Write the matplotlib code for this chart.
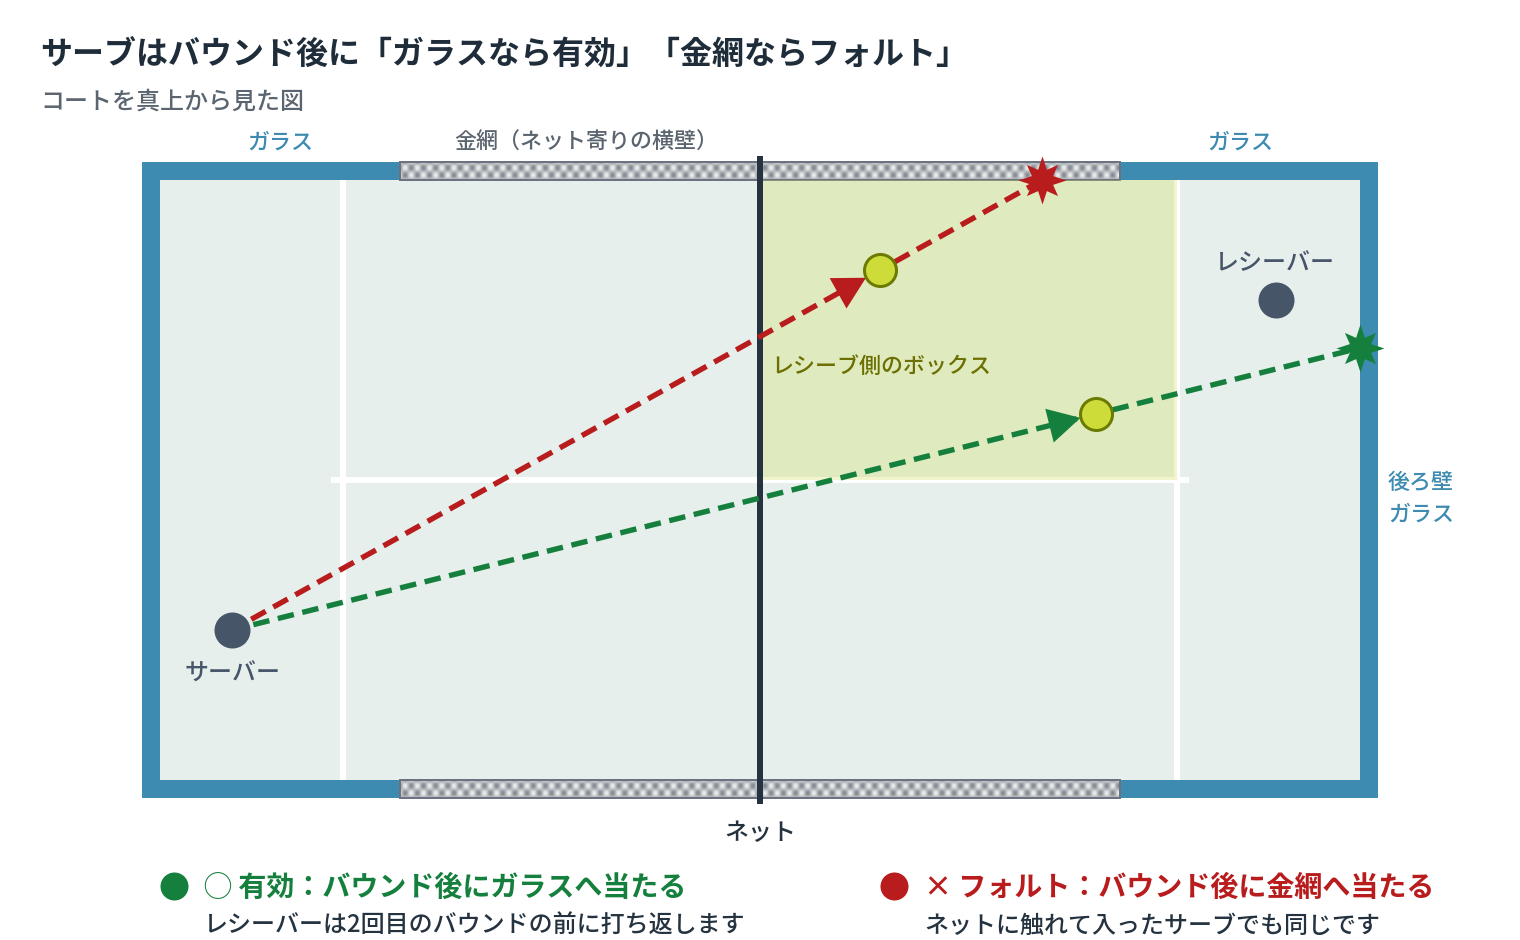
import numpy as np
import matplotlib
matplotlib.use('Agg')
import matplotlib.pyplot as plt
from matplotlib.colors import LinearSegmentedColormap
from matplotlib.patches import Rectangle

plt.rcParams['font.family'] = ['Noto Sans CJK JP', 'DejaVu Sans']

# court layout in picture pixels
court_x = [160, 1360]
court_y = [180, 780]
frame = 18
mesh_x = [400, 1120]
net_x = 760
service_x = [343, 1177]
service_y = 480
box_x = [760, 1177]
box_y = [180, 480]

# players and the two serves
server = (232, 630)
receiver = (1276, 300)
red_bounce = (880, 270)
red_hit = (1042, 180)
green_bounce = (1096, 414)
green_hit = (1360, 348)

GLASS = '#3d8bb0'
COURT = '#e6efec'
RED = '#b91c1c'
GREEN = '#15803d'
PLAYER = '#475569'
NET = '#253340'
MESH = LinearSegmentedColormap.from_list('mesh', ['#848a92', '#eceded'])

# impact star outline: tip, notch, diagonal tip, notch ...
star_radii = [24, 11.5, 22, 11.5] * 4
star_angles = np.deg2rad(np.arange(16) * 22.5)
STAR = list(zip(np.array(star_radii) * np.sin(star_angles), np.array(star_radii) * np.cos(star_angles)))


def px(w):
    # pixels to points at dpi 100
    return w * 0.72


def along(a, b, dist):
    # point dist pixels from a towards b
    a, b = np.array(a, float), np.array(b, float)
    return a + (b - a) / np.hypot(*(b - a)) * dist


fig = plt.figure(figsize=(15.2, 9.4), dpi=100)
ax = fig.add_axes([0, 0, 1, 1])

# glass frame and court
ax.add_patch(Rectangle((court_x[0] - frame, court_y[0] - frame),
                       court_x[1] - court_x[0] + 2 * frame,
                       court_y[1] - court_y[0] + 2 * frame, fc=GLASS, lw=0))
ax.add_patch(Rectangle((court_x[0], court_y[0]), court_x[1] - court_x[0],
                       court_y[1] - court_y[0], fc=COURT, lw=0))

# service lines
for x in service_x:
    ax.plot([x, x], court_y, color='white', lw=px(6), solid_capstyle='butt')
ax.plot([331, 1189], [service_y, service_y], color='white', lw=px(6), solid_capstyle='butt')

# receiver box sits over the lines
ax.add_patch(Rectangle((box_x[0], box_y[0]), box_x[1] - box_x[0], box_y[1] - box_y[0],
                       fc='#d4e157', alpha=0.3, lw=0, zorder=2.5))

# wire mesh on the side walls, a soft dot pattern
xx, yy = np.meshgrid(np.arange(mesh_x[1] - mesh_x[0]), np.arange(frame))
weave = 0.5 + 0.5 * np.cos(2 * np.pi * (xx - 4.7) / 12.2) * np.cos(2 * np.pi * (yy - 5.3) / 14.6)
for y in [court_y[0] - frame, court_y[1]]:
    ax.imshow(weave, cmap=MESH, extent=(mesh_x[0], mesh_x[1], y + frame, y),
              interpolation='bilinear', aspect='auto', zorder=1.5)
    ax.add_patch(Rectangle((mesh_x[0], y), mesh_x[1] - mesh_x[0], frame, fc='none',
                           ec='#6b7280', lw=px(2), zorder=1.6))

ax.plot([net_x, net_x], [156, 804], color=NET, lw=px(6), solid_capstyle='butt', zorder=3)


def serve(bounce, hit, color):
    dash = (0, (3.06, 1.61))
    start = along(server, bounce, 22)
    after = along(bounce, hit, 17)
    ax.plot([start[0], bounce[0]], [start[1], bounce[1]], color=color, lw=px(5.4),
            ls=dash, dash_capstyle='butt', zorder=4)
    ax.plot([after[0], hit[0]], [after[1], hit[1]], color=color, lw=px(5.4),
            ls=dash, dash_capstyle='butt', zorder=4)
    ax.annotate('', xy=bounce, xytext=along(bounce, server, 100), zorder=5,
                arrowprops=dict(arrowstyle='-|>,head_length=23,head_width=12.5', mutation_scale=1,
                                fc=color, ec=color, lw=0, shrinkA=0, shrinkB=px(16)))
    ax.plot(*hit, marker=STAR, ms=px(48), color=color, mew=0, zorder=6)
    ax.plot(*bounce, 'o', ms=px(32), mfc='#cddc39', mec='#6b7a00', mew=px(3), zorder=7)


serve(red_bounce, red_hit, RED)
serve(green_bounce, green_hit, GREEN)

for p in [server, receiver]:
    ax.plot(*p, 'o', ms=px(36), color=PLAYER, mew=0, zorder=7)


def label(x, y, s, size, color, ha='center', weight=500):
    ax.text(x, y + 2.5, s, fontsize=px(size), color=color, ha=ha, va='center', weight=weight, zorder=8)


label(40, 52, 'サーブはバウンド後に「ガラスなら有効」「金網ならフォルト」', 32, '#1f2d3a', 'left', 'bold')
label(40, 99, 'コートを真上から見た図', 24, '#5b6570', 'left')
label(280, 140, 'ガラス', 22, GLASS)
label(1240, 140, 'ガラス', 22, GLASS)
label(586, 140, '金網（ネット寄りの横壁）', 22, '#5b6570')
label(1275, 261, 'レシーバー', 24, PLAYER)
label(233, 671, 'サーバー', 24, PLAYER)
label(771, 364, 'レシーブ側のボックス', 22, '#6b7000', 'left')
label(1388, 480, '後ろ壁', 22, GLASS, 'left')
label(1388, 512, 'ガラス', 22, GLASS, 'left')
label(760, 831, 'ネット', 24, NET)

# legend
ax.plot(174, 886, 'o', ms=px(28), color=GREEN, mew=0)
label(204, 885, '◯ 有効：バウンド後にガラスへ当たる', 28, GREEN, 'left', 'bold')
label(204, 923, 'レシーバーは2回目のバウンドの前に打ち返します', 24, NET, 'left')
ax.plot(894, 886, 'o', ms=px(28), color=RED, mew=0)
label(924, 885, '× フォルト：バウンド後に金網へ当たる', 28, RED, 'left', 'bold')
label(924, 923, 'ネットに触れて入ったサーブでも同じです', 24, NET, 'left')

ax.set_xlim(0, 1520)
ax.set_ylim(940, 0)
ax.axis('off')

fig.savefig('out.png', dpi=100)
